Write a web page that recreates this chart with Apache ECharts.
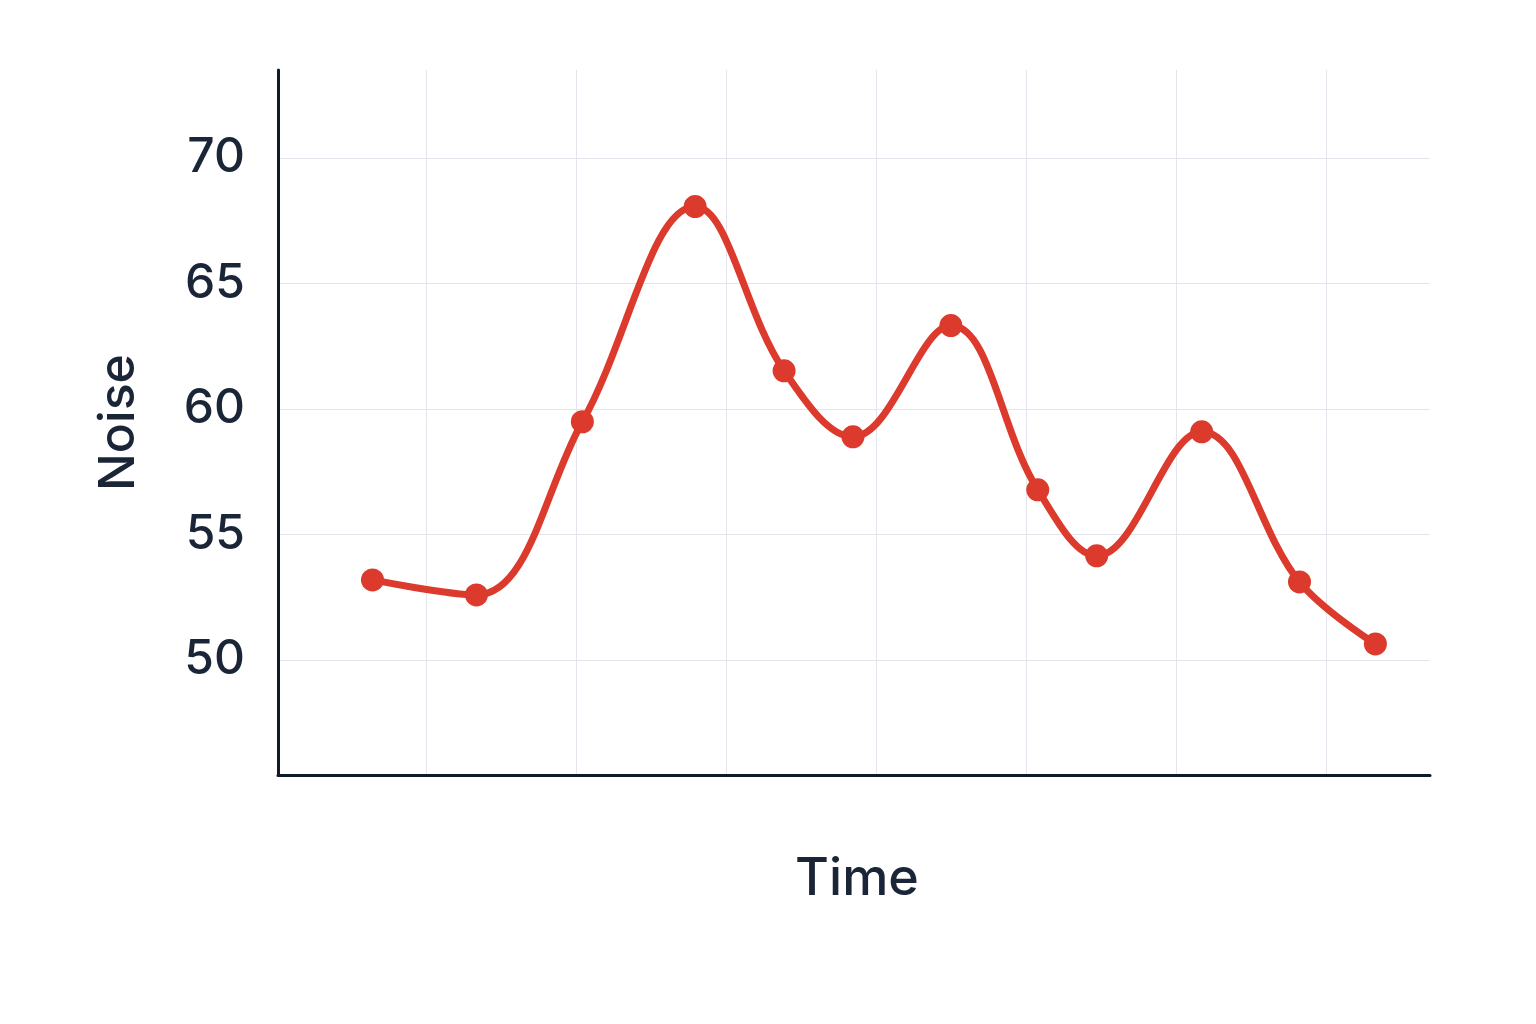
<!DOCTYPE html>
<html>
<head>
<meta charset="utf-8">
<script src="https://cdn.jsdelivr.net/npm/echarts@6/dist/echarts.min.js"></script>
<style>html,body{margin:0;padding:0;background:#fff}#c{width:1536px;height:1024px}</style>
</head>
<body>
<div id="c"></div>
<script>
const timeValues = [0.64, 1.333, 2.039, 2.791, 3.384, 3.843, 4.496, 5.075, 5.468, 6.168, 6.82, 7.326];
const noiseValues = [53.19, 52.59, 59.49, 68.06, 61.52, 58.89, 63.32, 56.78, 54.15, 59.09, 53.11, 50.64];
const yTickLabels = [50, 55, 60, 65, 70];
const xGridValues = [1, 2, 3, 4, 5, 6, 7];

const chart = echarts.init(document.getElementById('c'), null, {renderer: 'canvas'});
const textColor = '#1a2638';
const fontFamily = 'Inter, "Noto Sans", sans-serif';
chart.setOption({
  backgroundColor: '#ffffff',
  animation: false,
  grid: {left: 278, right: 106, top: 70, bottom: 249, containLabel: false},
  xAxis: {
    type: 'value',
    min: 0.01,
    max: 7.69,
    name: 'Time',
    nameLocation: 'middle',
    nameGap: 78,
    nameTextStyle: {color: textColor, fontSize: 52, fontWeight: 500, fontFamily: fontFamily, padding: [0, 0, 0, 6]},
    axisLine: {show: true, onZero: false, lineStyle: {color: '#0f1a2b', width: 3}},
    axisTick: {show: false, customValues: xGridValues},
    axisLabel: {show: false, customValues: xGridValues},
    splitLine: {show: true, lineStyle: {color: '#e4e5ec', width: 1}}
  },
  yAxis: {
    type: 'value',
    min: 45.42,
    max: 73.5,
    name: 'Noise',
    nameLocation: 'middle',
    nameGap: 134,
    nameTextStyle: {color: textColor, fontSize: 50, fontWeight: 500, fontFamily: fontFamily},
    axisLine: {show: true, onZero: false, lineStyle: {color: '#0f1a2b', width: 3}},
    axisTick: {show: false, customValues: yTickLabels},
    axisLabel: {show: true, customValues: yTickLabels, color: textColor, fontSize: 48, fontWeight: 500, fontFamily: fontFamily, margin: 33},
    splitLine: {show: true, lineStyle: {color: '#e4e5ec', width: 1}}
  },
  series: [{
    type: 'line',
    data: timeValues.map((t, i) => [t, noiseValues[i]]),
    smooth: 0.38,
    symbol: 'circle',
    symbolSize: 23,
    showAllSymbol: true,
    lineStyle: {color: '#dc3a2d', width: 7},
    itemStyle: {color: '#dc3a2d'}
  }]
});
</script>
</body>
</html>
